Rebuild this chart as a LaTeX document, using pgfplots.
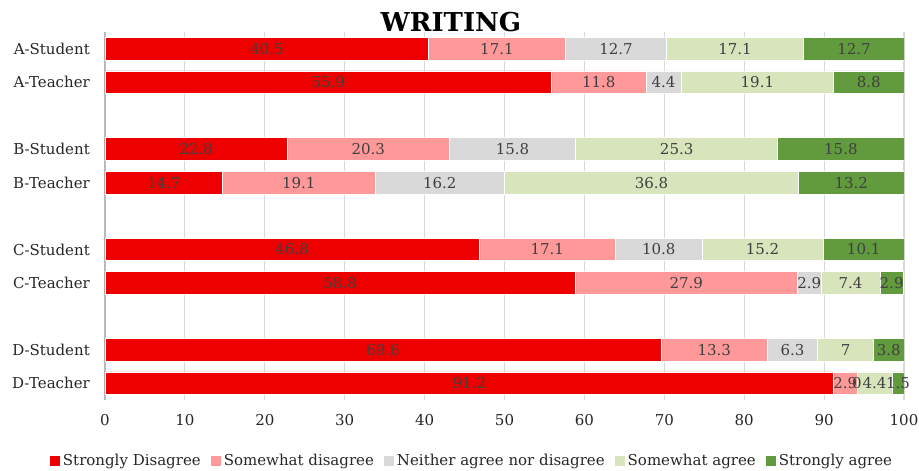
\documentclass[border=0pt]{standalone}
\usepackage{pgfplots}
\pgfplotsset{compat=1.18}
\usepackage{pgfplotstable}
\usepackage{fontspec}
\setmainfont{DejaVu Serif}
\definecolor{cSD}{HTML}{EE0000}
\definecolor{cSWD}{HTML}{FF9999}
\definecolor{cN}{HTML}{D9D9D9}
\definecolor{cSWA}{HTML}{D8E4BC}
\definecolor{cSA}{HTML}{629B3E}
\definecolor{gridc}{HTML}{D9D9D9}
\definecolor{lab}{HTML}{404040}
\definecolor{tick}{HTML}{262626}

\pgfplotstableread{
pos sd swd n swa sa
0 40.5 17.1 12.7 17.1 12.7
1 55.9 11.8 4.4 19.1 8.8
3 22.8 20.3 15.8 25.3 15.8
4 14.7 19.1 16.2 36.8 13.2
6 46.8 17.1 10.8 15.2 10.1
7 58.8 27.9 2.9 7.4 2.9
9 69.6 13.3 6.3 7 3.8
10 91.2 2.9 0 4.4 1.5
}\data

\pgfplotstableread{
pos x label
0 20.25 40.5
0 49.05 17.1
0 63.95 12.7
0 78.85 17.1
0 93.75 12.7
1 27.95 55.9
1 61.8 11.8
1 69.9 4.4
1 81.65 19.1
1 95.6 8.8
3 11.4 22.8
3 32.95 20.3
3 51.0 15.8
3 71.55 25.3
3 92.1 15.8
4 7.35 14.7
4 24.25 19.1
4 41.9 16.2
4 68.4 36.8
4 93.4 13.2
6 23.4 46.8
6 55.35 17.1
6 69.3 10.8
6 82.3 15.2
6 94.95 10.1
7 29.4 58.8
7 72.75 27.9
7 88.15 2.9
7 93.3 7.4
7 98.45 2.9
9 34.8 69.6
9 76.25 13.3
9 86.05 6.3
9 92.7 7
9 98.1 3.8
10 45.6 91.2
10 92.65 2.9
10 94.1 0
10 96.3 4.4
10 99.25 1.5
}\labels

\newcommand{\f}{\fontsize{15bp}{18bp}\selectfont}

\begin{document}
\begin{tikzpicture}
\path[use as bounding box] (-105bp,-71bp) rectangle (814bp,400bp);
\begin{axis}[
  at={(0,0)}, anchor=south west,
  scale only axis, width=799bp, height=368bp,
  xbar stacked, bar width=22.6bp,
  xmin=0, xmax=100, ymin=-0.5, ymax=10.5, y dir=reverse,
  ytick={0,1,3,4,6,7,9,10},
  yticklabels={A-Student,A-Teacher,B-Student,B-Teacher,C-Student,C-Teacher,D-Student,D-Teacher},
  xtick={0,10,...,100},
  xmajorgrids, grid style={gridc, line width=1.2bp},
  axis lines*=left,
  x axis line style={draw=none},
  y axis line style={draw=gray!55, line width=1.5bp},
  major tick length=0pt,
  /pgf/number format/assume math mode=true,
  tick label style={font=\f, text=tick},
  y tick label style={inner sep=0pt, xshift=-15bp},
  x tick label style={inner sep=0pt, anchor=north, yshift=-14bp},
  title={WRITING},
  title style={at={(0.433,1)}, anchor=base, yshift=-5bp, font=\fontsize{26bp}{29bp}\selectfont\bfseries},
  legend columns=5,
  legend cell align=left,
  legend style={at={(0.46,-0.1658)}, anchor=center, draw=none, fill=none,
    font=\f, text=tick, /tikz/every even column/.append style={column sep=7bp},
    nodes={inner xsep=3bp}},
  legend image code/.code={\fill[#1,draw=none] (0bp,-5bp) rectangle (10bp,5bp);},
  every axis plot/.append style={draw=white, line width=0.6bp},
]
\addplot[fill=cSD] table[x=sd, y=pos] {\data};
\addplot[fill=cSWD] table[x=swd, y=pos] {\data};
\addplot[fill=cN] table[x=n, y=pos] {\data};
\addplot[fill=cSWA] table[x=swa, y=pos] {\data};
\addplot[fill=cSA] table[x=sa, y=pos] {\data};
\legend{Strongly Disagree, Somewhat disagree, Neither agree nor disagree, Somewhat agree, Strongly agree}
\end{axis}
\begin{axis}[
  at={(0,0)}, anchor=south west,
  scale only axis, width=799bp, height=368bp,
  xmin=0, xmax=100, ymin=-0.5, ymax=10.5, y dir=reverse,
  axis lines=none, clip=false,
]
\addplot[draw=none, mark=none, nodes near coords, point meta=explicit symbolic,
  nodes near coords align=center,
  every node near coord/.append style={font=\f, text=lab, inner sep=0pt}]
  table[x=x, y=pos, meta=label] {\labels};
\end{axis}
\end{tikzpicture}
\end{document}
